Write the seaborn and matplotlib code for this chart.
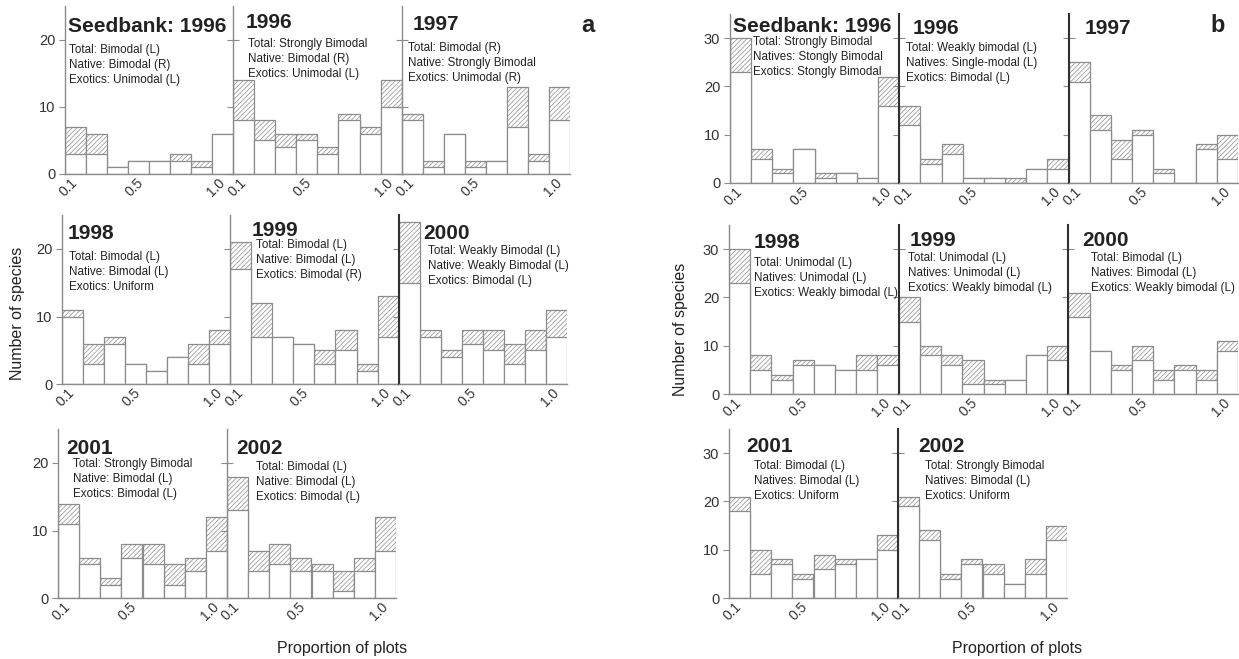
import matplotlib
matplotlib.use("Agg")
import matplotlib.pyplot as plt
import pandas as pd
import seaborn as sns

# ---- proportion-of-plots classes (bin centres) and tick labels ----
prop_bins = [0.1, 0.2286, 0.3571, 0.4857, 0.6143, 0.7429, 0.8714, 1.0]
x_ticks = [0.1, 0.5, 1.0]
x_tick_labels = ["0.1", "0.5", "1.0"]

# ---- (a) number of species: total (natives + exotics) and natives ----
a_seed96_total = [7, 6, 1, 2, 2, 3, 2, 6]
a_seed96_native = [3, 3, 1, 2, 2, 2, 1, 6]
a_1996_total = [14, 8, 6, 6, 4, 9, 7, 14]
a_1996_native = [8, 5, 4, 5, 3, 8, 6, 10]
a_1997_total = [9, 2, 6, 2, 2, 13, 3, 13]
a_1997_native = [8, 1, 6, 1, 2, 7, 2, 8]
a_1998_total = [11, 6, 7, 3, 2, 4, 6, 8]
a_1998_native = [10, 3, 6, 3, 2, 4, 3, 6]
a_1999_total = [21, 12, 7, 6, 5, 8, 3, 13]
a_1999_native = [17, 7, 7, 6, 3, 5, 2, 7]
a_2000_total = [24, 8, 5, 8, 8, 6, 8, 11]
a_2000_native = [15, 7, 4, 6, 5, 3, 5, 7]
a_2001_total = [14, 6, 3, 8, 8, 5, 6, 12]
a_2001_native = [11, 5, 2, 6, 5, 2, 4, 7]
a_2002_total = [18, 7, 8, 6, 5, 4, 6, 12]
a_2002_native = [13, 4, 5, 4, 4, 1, 4, 7]

# ---- (b) number of species: total and natives ----
b_seed96_total = [30, 7, 3, 7, 2, 2, 1, 22]
b_seed96_native = [23, 5, 2, 7, 1, 2, 1, 16]
b_1996_total = [16, 5, 8, 1, 1, 1, 3, 5]
b_1996_native = [12, 4, 6, 1, 1, 0, 3, 3]
b_1997_total = [25, 14, 9, 11, 3, 0, 8, 10]
b_1997_native = [21, 11, 5, 10, 2, 0, 7, 5]
b_1998_total = [30, 8, 4, 7, 6, 5, 8, 8]
b_1998_native = [23, 5, 3, 6, 6, 5, 5, 6]
b_1999_total = [20, 10, 8, 7, 3, 3, 8, 10]
b_1999_native = [15, 8, 6, 2, 2, 3, 8, 7]
b_2000_total = [21, 9, 6, 10, 5, 6, 5, 11]
b_2000_native = [16, 9, 5, 7, 3, 5, 3, 9]
b_2001_total = [21, 10, 8, 5, 9, 8, 8, 13]
b_2001_native = [18, 5, 7, 4, 6, 7, 8, 10]
b_2002_total = [21, 14, 5, 8, 7, 3, 8, 15]
b_2002_native = [19, 12, 4, 7, 5, 3, 5, 12]

# ---- panel titles and distribution notes ----
a_titles = ["Seedbank: 1996", "1996", "1997", "1998", "1999", "2000", "2001", "2002"]
a_notes = [
    "Total: Bimodal (L)\nNative: Bimodal (R)\nExotics: Unimodal (L)",
    "Total: Strongly Bimodal\nNative: Bimodal (R)\nExotics: Unimodal (L)",
    "Total: Bimodal (R)\nNative: Strongly Bimodal\nExotics: Unimodal (R)",
    "Total: Bimodal (L)\nNative: Bimodal (L)\nExotics: Uniform",
    "Total: Bimodal (L)\nNative: Bimodal (L)\nExotics: Bimodal (R)",
    "Total: Weakly Bimodal (L)\nNative: Weakly Bimodal (L)\nExotics: Bimodal (L)",
    "Total: Strongly Bimodal\nNative: Bimodal (L)\nExotics: Bimodal (L)",
    "Total: Bimodal (L)\nNative: Bimodal (L)\nExotics: Bimodal (L)",
]
b_titles = ["Seedbank: 1996", "1996", "1997", "1998", "1999", "2000", "2001", "2002"]
b_notes = [
    "Total: Strongly Bimodal\nNatives: Stongly Bimodal\nExotics: Stongly Bimodal",
    "Total: Weakly bimodal (L)\nNatives: Single-modal (L)\nExotics: Bimodal (L)",
    "",
    "Total: Unimodal (L)\nNatives: Unimodal (L)\nExotics: Weakly bimodal (L)",
    "Total: Unimodal (L)\nNatives: Unimodal (L)\nExotics: Weakly bimodal (L)",
    "Total: Bimodal (L)\nNatives: Bimodal (L)\nExotics: Weakly bimodal (L)",
    "Total: Bimodal (L)\nNatives: Bimodal (L)\nExotics: Uniform",
    "Total: Strongly Bimodal\nNatives: Bimodal (L)\nExotics: Uniform",
]

a_series = [(a_seed96_total, a_seed96_native), (a_1996_total, a_1996_native),
            (a_1997_total, a_1997_native), (a_1998_total, a_1998_native),
            (a_1999_total, a_1999_native), (a_2000_total, a_2000_native),
            (a_2001_total, a_2001_native), (a_2002_total, a_2002_native)]
b_series = [(b_seed96_total, b_seed96_native), (b_1996_total, b_1996_native),
            (b_1997_total, b_1997_native), (b_1998_total, b_1998_native),
            (b_1999_total, b_1999_native), (b_2000_total, b_2000_native),
            (b_2001_total, b_2001_native), (b_2002_total, b_2002_native)]

# ---- style ----
sns.set_theme(style="white")
plt.rcParams["font.family"] = ["Liberation Sans", "DejaVu Sans"]
plt.rcParams["hatch.linewidth"] = 0.5

EDGE = "#8c8c8c"
LIGHT = "#8a8a8a"
DARK = "#303030"
TEXT = "#222222"
HATCH = "/" * 7

W, H = 1239, 659
fig = plt.figure(figsize=(W / 100, H / 100), dpi=100)

BIN_W = prop_bins[1] - prop_bins[0]


def panel(left, bottom, width, height, ymax, yticks, total, native, first, sep_color):
    ax = fig.add_axes([left / W, 1 - bottom / H, width / W, height / H])
    df = pd.DataFrame({"prop": prop_bins, "total": total, "native": native})
    # exotics sit on top of natives: hatched total bar, white natives over it
    sns.barplot(data=df, x="prop", y="total", native_scale=True, width=1,
                color="white", saturation=1, errorbar=None, edgecolor=EDGE,
                linewidth=0.9, hatch=HATCH, ax=ax)
    sns.barplot(data=df, x="prop", y="native", native_scale=True, width=1,
                color="white", saturation=1, errorbar=None, edgecolor=EDGE,
                linewidth=0.9, ax=ax)
    ax.set_xlim(prop_bins[0] - BIN_W / 2, prop_bins[-1] + BIN_W / 2)
    ax.set_ylim(0, ymax)
    ax.set_xlabel("")
    ax.set_ylabel("")
    ax.patch.set_alpha(0)
    for s in ("top", "right"):
        ax.spines[s].set_visible(False)
    ax.spines["bottom"].set_color(EDGE)
    ax.spines["bottom"].set_linewidth(1.0)
    ax.spines["left"].set_color(sep_color)
    ax.spines["left"].set_linewidth(1.0 if sep_color == LIGHT else 1.5)
    ax.set_xticks(x_ticks)
    ax.set_xticklabels(x_tick_labels, rotation=45, ha="right", va="center",
                       rotation_mode="anchor", color="#333333", fontsize=10)
    ax.tick_params(axis="x", length=0, pad=5)
    ax.set_yticks(yticks)
    if first:
        ax.set_yticklabels([str(t) for t in yticks], color="#333333", fontsize=10.5)
        ax.tick_params(axis="y", direction="out", length=4, width=0.8,
                       color=LIGHT, pad=3, left=True)
    else:
        ax.tick_params(axis="y", direction="inout", length=8, width=0.8,
                       color=LIGHT, labelleft=False, left=True)
    return ax


def note(x, y, title, text, title_xy):
    tx, ty = title_xy
    fig.text(tx / W, 1 - ty / H, title, fontsize=15, fontweight="bold",
             color=TEXT, ha="left", va="center")
    if text:
        fig.text(x / W, 1 - y / H, text, fontsize=8.4, color=TEXT, ha="left",
                 va="center", linespacing=1.3)


# rows: (left, bottom px, panel width, ymax, px per unit, yticks, index list, separators)
rows_a = [
    (65, 174, 168.3, 25, 6.7, [0, 10, 20], [0, 1, 2], [LIGHT, LIGHT, LIGHT]),
    (62, 384, 168.3, 25, 6.75, [0, 10, 20], [3, 4, 5], [LIGHT, LIGHT, DARK]),
    (58, 598, 169.0, 25, 6.75, [0, 10, 20], [6, 7], [LIGHT, LIGHT]),
]
rows_b = [
    (730, 183, 169.3, 35, 4.83, [0, 10, 20, 30], [0, 1, 2], [LIGHT, DARK, DARK]),
    (729, 394, 169.7, 35, 4.83, [0, 10, 20, 30], [3, 4, 5], [LIGHT, DARK, DARK]),
    (729, 598, 169.0, 35, 4.83, [0, 10, 20, 30], [6, 7], [LIGHT, DARK]),
]

# title (x, y) and note (x, y middle line) positions in pixels
a_title_pos = [(68, 26), (246, 22), (413, 25), (68, 233), (252, 230), (423, 233),
               (66, 448), (236, 449)]
a_note_pos = [(69, 65), (248, 59), (408, 63), (69, 272), (256, 260), (428, 266),
              (73, 479), (256, 482)]
b_title_pos = [(733, 27), (913, 29), (1085, 29), (754, 242), (910, 240), (1082, 240),
               (746, 446), (918, 446)]
b_note_pos = [(753, 57), (906, 63), (0, 0), (754, 278), (908, 273), (1091, 273),
              (754, 481), (925, 481)]


def draw_rows(rows, series, titles, notes, tpos, npos):
    for left, bottom, pw, ymax, ppu, yticks, idx, seps in rows:
        height = ymax * ppu
        for k, i in enumerate(idx):
            total, native = series[i]
            panel(left + k * pw, bottom, pw, height, ymax, yticks, total, native,
                  k == 0, seps[k])
            note(npos[i][0], npos[i][1], titles[i], notes[i], tpos[i])


draw_rows(rows_a, a_series, a_titles, a_notes, a_title_pos, a_note_pos)
draw_rows(rows_b, b_series, b_titles, b_notes, b_title_pos, b_note_pos)

# figure labels
fig.text(588 / W, 1 - 25 / H, "a", fontsize=17, fontweight="bold", color=TEXT,
         ha="center", va="center")
fig.text(1218 / W, 1 - 25 / H, "b", fontsize=17, fontweight="bold", color=TEXT,
         ha="center", va="center")
fig.text(18 / W, 1 - 313 / H, "Number of species", fontsize=11.5, color=TEXT,
         rotation=90, ha="center", va="center")
fig.text(681 / W, 1 - 329 / H, "Number of species", fontsize=11.5, color=TEXT,
         rotation=90, ha="center", va="center")
fig.text(342 / W, 1 - 648 / H, "Proportion of plots", fontsize=11.5, color=TEXT,
         ha="center", va="center")
fig.text(1017 / W, 1 - 649 / H, "Proportion of plots", fontsize=11.5, color=TEXT,
         ha="center", va="center")

fig.savefig("out.png", dpi=100, facecolor="white")
